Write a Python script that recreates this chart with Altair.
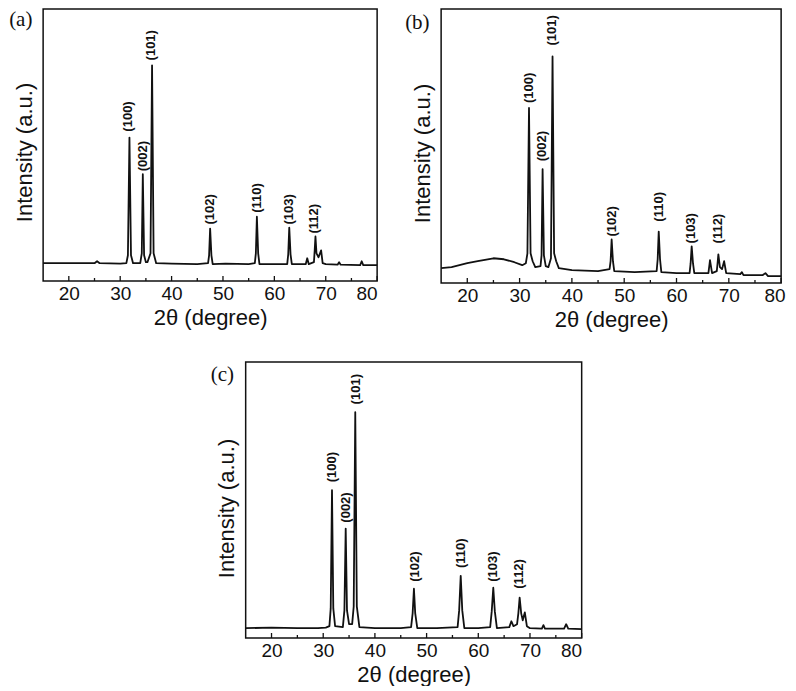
import altair as alt
import pandas as pd

# ---------------- data ----------------
# Panel (a)
a_two_theta = [15, 20, 25, 25.5, 26, 30, 31.2, 31.5, 31.8, 32.1, 32.5, 33.9, 34.2, 34.4, 34.65, 35.0, 35.3,
               35.9, 36.2, 36.5, 37.0, 40, 45, 47.1, 47.3, 47.5, 47.75, 48.0, 50.5, 55, 56.2, 56.4, 56.6,
               56.85, 57.1, 60, 62.5, 62.7, 62.9, 63.15, 63.4, 66.1, 66.4, 66.7, 67.7, 67.85, 68.0, 68.2,
               68.6, 69.1, 69.4, 70, 72.3, 72.6, 72.9, 76.7, 77.0, 77.3, 80]
a_intensity = [18, 18, 18, 20, 18, 17.5, 18, 26, 145, 26, 18, 18, 28, 108, 26, 19, 19,
               28, 218, 28, 18, 17.5, 17, 18, 26, 53, 26, 17, 17.5, 17, 18, 28, 65,
               28, 17, 17, 17, 27, 54, 27, 17, 17, 23, 17, 19, 31, 45, 28,
               24, 31, 18, 17, 16.5, 19, 16.5, 16, 20, 16, 16]
a_hkl = ["(100)", "(002)", "(101)", "(102)", "(110)", "(103)", "(112)"]
a_label_theta = [31.54, 34.42, 35.96, 47.5, 56.7, 62.9, 67.7]
a_label_base = [151, 111, 223, 57, 69, 57, 48]

# Panel (b)
b_two_theta = [15, 17, 20, 22, 25, 27, 29, 30.5, 31.2, 31.5, 31.8, 32.1, 32.5, 33.0, 34.0, 34.2, 34.4, 34.65,
               35.0, 35.5, 36.0, 36.3, 36.6, 37.0, 37.5, 40, 45, 47.2, 47.4, 47.6, 47.85, 48.1, 52, 56.2,
               56.4, 56.6, 56.85, 57.1, 60, 62.5, 62.7, 62.9, 63.15, 63.4, 66.1, 66.4, 66.8, 67.7, 67.85,
               68.0, 68.3, 68.7, 69.1, 69.5, 72.2, 72.5, 72.8, 76.5, 77.0, 77.5, 80]
b_intensity = [15, 16, 20, 22, 25, 24, 21, 18, 20, 30, 177, 30, 22, 16, 17, 28, 115, 28,
               17, 16, 25, 229, 30, 22, 15, 13, 12, 14, 22, 44, 22, 12, 11, 12,
               24, 52, 24, 11, 10, 10, 20, 37, 20, 10, 10, 23, 10, 12, 20,
               29, 16, 14, 22, 10, 9, 11, 8, 8, 10, 7, 7]
b_hkl = ["(100)", "(002)", "(101)", "(102)", "(110)", "(103)", "(112)"]
b_label_theta = [31.76, 34.24, 36.14, 47.76, 56.71, 62.81, 67.95]
b_label_base = [182, 123, 240, 47, 62, 40, 40]

# Panel (c)
c_two_theta = [15, 20, 25, 29, 30.5, 31.2, 31.45, 31.7, 31.95, 32.3, 33.8, 34.1, 34.35, 34.6, 35.0, 35.6,
               35.9, 36.2, 36.5, 37.0, 40, 45, 47.0, 47.3, 47.55, 47.8, 48.2, 52, 56.0, 56.3, 56.6, 56.9,
               57.3, 60, 62.3, 62.6, 62.9, 63.2, 63.6, 66.0, 66.4, 66.8, 67.5, 67.75, 68.0, 68.3, 68.6,
               69.0, 69.4, 70, 72.3, 72.6, 72.9, 76.6, 77.0, 77.4, 80]
c_intensity = [10, 10.5, 10, 10, 10.5, 12, 30, 150, 30, 12, 11, 28, 111, 28, 14, 14,
               32, 229, 32, 11, 10, 10, 11, 25, 50, 25, 10, 10, 11, 28, 63, 28,
               10, 10, 11, 27, 51, 27, 10, 11, 17, 12, 14, 25, 41, 25, 18,
               26, 12, 10, 9.5, 13, 9.5, 9.5, 14, 9.5, 9]
c_hkl = ["(100)", "(002)", "(101)", "(102)", "(110)", "(103)", "(112)"]
c_label_theta = [31.73, 34.42, 36.35, 47.69, 56.73, 62.88, 67.88]
c_label_base = [158, 117, 237, 57, 71, 57, 50]

major_ticks = [20, 30, 40, 50, 60, 70, 80]
minor_ticks = [25, 35, 45, 55, 65, 75]

INK = "#111111"


def panel(tt, inten, hkl, lt, lb, tag, w, h, ymax, tag_dx, tag_dy, ytitle_shift, flush_offset=None):
    xs = alt.Scale(domain=[15, 80], nice=False, zero=False)
    ys = alt.Scale(domain=[0, ymax], nice=False, zero=True)
    axis_kw = dict(values=major_ticks, title="2θ (degree)", ticks=False, domain=False, grid=False,
                   labelFontSize=19, labelFont="Liberation Sans", labelColor=INK,
                   titleFontSize=22, titleFont="Liberation Sans", titleFontWeight="normal",
                   titleColor=INK, labelPadding=3, titlePadding=4)
    if flush_offset is not None:
        axis_kw["labelFlush"] = True
        axis_kw["labelFlushOffset"] = flush_offset
    line_df = pd.DataFrame({"two_theta": tt, "intensity": inten})
    lab_df = pd.DataFrame({"two_theta": lt, "intensity": lb, "hkl": hkl})
    line = alt.Chart(line_df).mark_line(color=INK, strokeWidth=1.8, strokeJoin="round").encode(
        x=alt.X("two_theta:Q", scale=xs, axis=alt.Axis(**axis_kw)),
        y=alt.Y("intensity:Q", scale=ys,
                axis=alt.Axis(labels=False, ticks=False, domain=False, grid=False,
                              title="Intensity (a.u.)", titleFontSize=22,
                              titleFont="Liberation Sans", titleFontWeight="normal",
                              titleColor=INK, titlePadding=7, minExtent=0,
                              titleY=h / 2 + ytitle_shift)),
    )
    labels = alt.Chart(lab_df).mark_text(angle=270, align="left", baseline="middle",
                                         fontSize=13, fontWeight="bold",
                                         font="Liberation Sans", color=INK).encode(
        x=alt.X("two_theta:Q", scale=xs),
        y=alt.Y("intensity:Q", scale=ys),
        text="hkl:N",
    )
    tmaj = alt.Chart(pd.DataFrame({"two_theta": major_ticks})).mark_rule(color=INK, strokeWidth=1.3).encode(
        x=alt.X("two_theta:Q", scale=xs), y=alt.value(h), y2=alt.value(h - 5))
    tmin = alt.Chart(pd.DataFrame({"two_theta": minor_ticks})).mark_rule(color=INK, strokeWidth=1.3).encode(
        x=alt.X("two_theta:Q", scale=xs), y=alt.value(h), y2=alt.value(h - 3))
    tag_mark = alt.Chart(pd.DataFrame({"tag": [tag]})).mark_text(
        align="left", baseline="top", font="Liberation Serif", fontSize=21, color=INK).encode(
        x=alt.value(tag_dx), y=alt.value(tag_dy), text="tag:N")
    return alt.layer(line, labels, tmaj, tmin, tag_mark).properties(width=w, height=h)


pa = panel(a_two_theta, a_intensity, a_hkl, a_label_theta, a_label_base, "(a)", 334, 272, 275, -34, 0, 7)
pb = panel(b_two_theta, b_intensity, b_hkl, b_label_theta, b_label_base, "(b)", 340, 274, 277, -36, 3, 7,
           flush_offset=4)
pc = panel(c_two_theta, c_intensity, c_hkl, c_label_theta, c_label_base, "(c)", 336, 276, 280, -35, 2, 8)

top = alt.hconcat(pa, pb, spacing=25)
chart = alt.vconcat(top, pc, spacing=30, center=True).properties(padding=0).configure_view(
    stroke=INK, strokeWidth=1.5
)

chart.save("out.html", embed_options={"renderer": "svg", "actions": False})
